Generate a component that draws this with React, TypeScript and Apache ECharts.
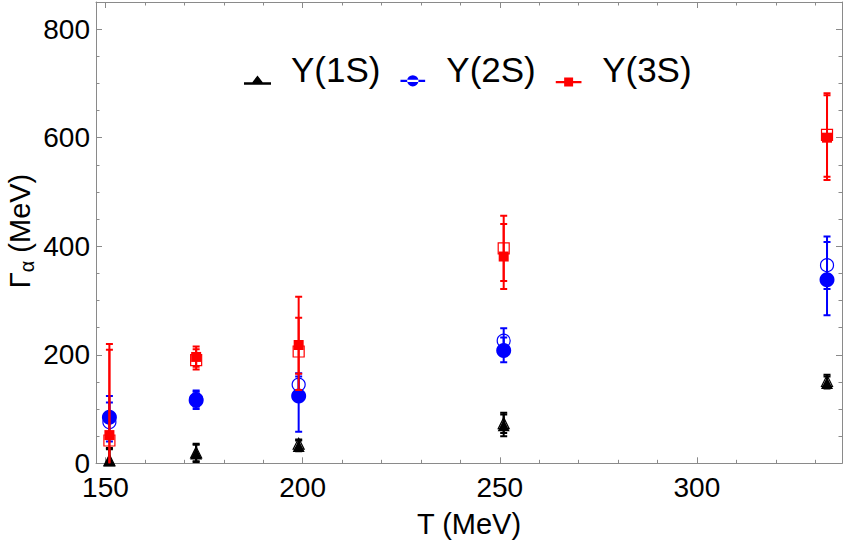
import React, { useEffect, useRef } from "react";
import * as echarts from "echarts";

// Temperatures (MeV)
const temps = [151, 173, 199, 251, 333];

// Υ(1S)
const ups1Filled = [5, 18, 32, 70, 148];
const ups1FilledLow = [-18, 2, 22, 50, 138];
const ups1FilledHigh = [28, 34, 42, 90, 160];
const ups1Open = [6, 20, 36, 74, 152];
const ups1OpenLow = [-16, 4, 28, 56, 142];
const ups1OpenHigh = [26, 36, 44, 93, 163];

// Υ(2S)
const ups2Filled = [85, 116, 124, 208, 338];
const ups2FilledLow = [45, 100, 58, 186, 273];
const ups2FilledHigh = [124, 134, 160, 232, 408];
const ups2Open = [76, 118, 145, 226, 365];
const ups2OpenLow = [40, 104, 124, 204, 321];
const ups2OpenHigh = [112, 132, 166, 249, 418];

// Υ(3S)
const ups3Filled = [52, 196, 218, 381, 600];
const ups3FilledLow = [-100, 178, 165, 321, 522];
const ups3FilledHigh = [209, 215, 268, 441, 678];
const ups3Open = [42, 190, 206, 396, 605];
const ups3OpenLow = [-130, 173, 135, 336, 528];
const ups3OpenHigh = [220, 210, 307, 456, 682];

const seriesNames = ["Υ(1S)", "Υ(2S)", "Υ(3S)"];

const xMajor = [150, 200, 250, 300];
const xMinor = [160, 170, 180, 190, 210, 220, 230, 240, 260, 270, 280, 290, 310, 320, 330];
const yMajor = [0, 200, 400, 600, 800];
const yMinor = [50, 100, 150, 250, 300, 350, 450, 500, 550, 650, 700, 750];

const X_MIN = 147.6;
const X_MAX = 336.8;
const Y_MIN = 0;
const Y_MAX = 850;

const FONT = "'Liberation Sans', Arial, Helvetica, sans-serif";
const FRAME = "#8a8a8a";

const COLORS = ["#000000", "#0000ff", "#ff0000"];
const FILLED_SYMBOLS = ["triangle", "circle", "rect"];
const FILLED_SIZES = [12, 15, 10];
const OPEN_SIZES = [11, 13, 11];

// legend icons: a line with the marker, box 27 x 34 with the line 14px below the box centre
const BOX = "M13.5,-17L13.51,-17L13.5,-16.99Z M13.5,17L13.51,17L13.5,16.99Z";
const LINE = "M0,12.8L27,12.8L27,15.2L0,15.2Z";
const ICONS = [
  `path://${LINE} M7,14.5L13.5,6L20,14.5Z ${BOX}`,
  `path://${LINE} M7.3,14A6.2,6.2,0,1,0,19.7,14A6.2,6.2,0,1,0,7.3,14Z ${BOX}`,
  `path://${LINE} M8.8,9.3L18.2,9.3L18.2,18.7L8.8,18.7Z ${BOX}`,
];

function zipPoints(xs: number[], ys: number[]) {
  return xs.map((x, i) => [x, ys[i]]);
}
function zipErr(xs: number[], lo: number[], hi: number[]) {
  return xs.map((x, i) => [x, lo[i], hi[i]]);
}

function errSeries(name: string, color: string, data: number[][]) {
  return {
    type: "custom",
    name,
    clip: true,
    xAxisIndex: 0,
    yAxisIndex: 0,
    itemStyle: { color },
    encode: { x: 0, y: [1, 2] },
    data,
    z: 2,
    renderItem: (params: any, api: any) => {
      const x = api.value(0);
      const lo = api.coord([x, api.value(1)]);
      const hi = api.coord([x, api.value(2)]);
      const hw = 3.5;
      const style = { stroke: color, lineWidth: 2, fill: "none" };
      return {
        type: "group",
        children: [
          { type: "line", shape: { x1: lo[0], y1: lo[1], x2: hi[0], y2: hi[1] }, style },
          { type: "line", shape: { x1: lo[0] - hw, y1: lo[1], x2: lo[0] + hw, y2: lo[1] }, style },
          { type: "line", shape: { x1: hi[0] - hw, y1: hi[1], x2: hi[0] + hw, y2: hi[1] }, style },
        ],
      };
    },
  };
}

export default function App() {
  const ref = useRef<HTMLDivElement>(null);

  useEffect(() => {
    if (!ref.current) return;
    const chart = echarts.init(ref.current, undefined, { renderer: "svg" });

    const filled = [
      [ups1Filled, ups1FilledLow, ups1FilledHigh],
      [ups2Filled, ups2FilledLow, ups2FilledHigh],
      [ups3Filled, ups3FilledLow, ups3FilledHigh],
    ];
    const open = [
      [ups1Open, ups1OpenLow, ups1OpenHigh],
      [ups2Open, ups2OpenLow, ups2OpenHigh],
      [ups3Open, ups3OpenLow, ups3OpenHigh],
    ];

    const series: any[] = [];
    for (let k = 0; k < 3; k++) {
      const name = seriesNames[k];
      const color = COLORS[k];
      series.push({
        type: "scatter",
        name,
        xAxisIndex: 0,
        yAxisIndex: 0,
        symbol: FILLED_SYMBOLS[k],
        symbolSize: FILLED_SIZES[k],
        itemStyle: { color, opacity: 1 },
        data: zipPoints(temps, filled[k][0]),
        z: 3 + k * 3,
      });
      series.push({ ...errSeries(name, color, zipErr(temps, filled[k][1], filled[k][2])), z: 2 + k * 3 });
      series.push({ ...errSeries(name, color, zipErr(temps, open[k][1], open[k][2])), z: 2 + k * 3 });
      series.push({
        type: "scatter",
        name,
        xAxisIndex: 0,
        yAxisIndex: 0,
        symbol: FILLED_SYMBOLS[k],
        symbolSize: OPEN_SIZES[k],
        itemStyle: { color: "rgba(0,0,0,0)", borderColor: color, borderWidth: 1.2, opacity: 1 },
        data: zipPoints(temps, open[k][0]),
        z: 4 + k * 3,
      });
    }

    const xBase = {
      type: "value",
      min: X_MIN,
      max: X_MAX,
      gridIndex: 0,
      splitLine: { show: false },
      axisLine: { show: false, onZero: false, lineStyle: { color: FRAME, width: 1 } },
      axisLabel: { show: false },
    };
    const yBase = {
      type: "value",
      min: Y_MIN,
      max: Y_MAX,
      gridIndex: 0,
      splitLine: { show: false },
      axisLine: { show: false, onZero: false, lineStyle: { color: FRAME, width: 1 } },
      axisLabel: { show: false },
    };

    const option: any = {
      animation: false,
      backgroundColor: "#ffffff",
      grid: {
        left: 96,
        top: 2,
        width: 746,
        height: 461.3,
        containLabel: false,
        outerBoundsMode: "none",
      },
      legend: {
        left: 244,
        top: 52,
        padding: 0,
        itemWidth: 27,
        itemHeight: 34,
        itemGap: 20,
        selectedMode: false,
        textStyle: {
          fontSize: 35,
          fontFamily: FONT,
          color: "#000",
          padding: [0, 0, 0, 15],
        },
        data: seriesNames.map((n, i) => ({
          name: n,
          icon: ICONS[i],
          itemStyle: { color: COLORS[i], borderWidth: 0 },
        })),
      },
      graphic: [
        {
          type: "group",
          x: 20,
          y: 231,
          rotation: Math.PI / 2,
          children: [
            {
              type: "text",
              x: 0,
              y: 0,
              style: {
                text: "{g|Γ}{s|α}{g| (MeV)}",
                align: "center",
                verticalAlign: "middle",
                fill: "#000",
                font: `29px ${FONT}`,
                rich: {
                  g: { fontSize: 29, lineHeight: 34, fontFamily: FONT, fill: "#000" },
                  s: { fontSize: 20, lineHeight: 18, verticalAlign: "bottom", fontFamily: FONT, fill: "#000" },
                },
              },
            },
          ],
        },
      ],
      xAxis: [
        {
          ...xBase,
          position: "bottom",
          axisLine: { show: true, onZero: false, lineStyle: { color: FRAME, width: 1 } },
          axisTick: { show: true, inside: true, length: 6, customValues: xMajor, lineStyle: { color: FRAME } },
          axisLabel: {
            show: true,
            customValues: xMajor,
            fontSize: 28,
            fontFamily: FONT,
            color: "#000",
            margin: 10,
          },
          name: "T (MeV)",
          nameLocation: "middle",
          nameGap: 46,
          nameTextStyle: { fontSize: 29, fontFamily: FONT, color: "#000" },
        },
        {
          ...xBase,
          position: "bottom",
          axisTick: { show: true, inside: true, length: 3.5, customValues: xMinor, lineStyle: { color: FRAME } },
        },
        {
          ...xBase,
          position: "top",
          axisLine: { show: true, onZero: false, lineStyle: { color: FRAME, width: 1 } },
          axisTick: { show: true, inside: true, length: 6, customValues: xMajor, lineStyle: { color: FRAME } },
        },
        {
          ...xBase,
          position: "top",
          axisTick: { show: true, inside: true, length: 3.5, customValues: xMinor, lineStyle: { color: FRAME } },
        },
      ],
      yAxis: [
        {
          ...yBase,
          position: "left",
          axisLine: { show: true, onZero: false, lineStyle: { color: FRAME, width: 1 } },
          axisTick: { show: true, inside: true, length: 6, customValues: yMajor, lineStyle: { color: FRAME } },
          axisLabel: {
            show: true,
            customValues: yMajor,
            fontSize: 28,
            fontFamily: FONT,
            color: "#000",
            margin: 6,
          },
        },
        {
          ...yBase,
          position: "left",
          axisTick: { show: true, inside: true, length: 3.5, customValues: yMinor, lineStyle: { color: FRAME } },
        },
        {
          ...yBase,
          position: "right",
          axisLine: { show: true, onZero: false, lineStyle: { color: FRAME, width: 1 } },
          axisTick: { show: true, inside: true, length: 6, customValues: yMajor, lineStyle: { color: FRAME } },
        },
        {
          ...yBase,
          position: "right",
          axisTick: { show: true, inside: true, length: 3.5, customValues: yMinor, lineStyle: { color: FRAME } },
        },
      ],
      series,
    };

    chart.setOption(option);
    return () => {
      chart.dispose();
    };
  }, []);

  return (
    <div
      ref={ref}
      style={{ position: "absolute", left: 0, top: 0, width: 847, height: 546, background: "#fff" }}
    />
  );
}
